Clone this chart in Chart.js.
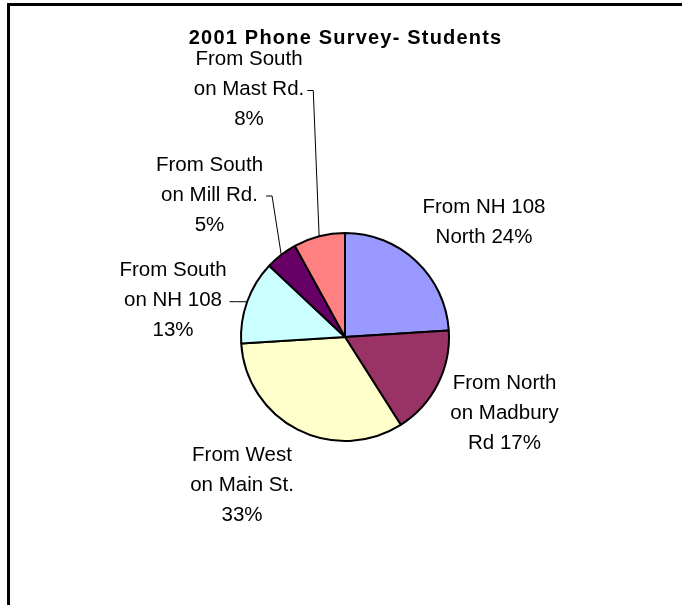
<!DOCTYPE html>
<html>
<head>
<meta charset="utf-8">
<script src="https://cdn.jsdelivr.net/npm/chart.js@4.4.1/dist/chart.umd.min.js"></script>
<style>
  html, body { margin: 0; padding: 0; background: #fff; }
  #wrap { position: relative; width: 682px; height: 605px; }
</style>
</head>
<body>
<div id="wrap"><canvas id="surveyChart" width="682" height="605"></canvas></div>
<script>
const chartTitle = "2001 Phone Survey- Students";

// category names, already broken into lines like the original labels
const routes = [
  ["From NH 108", "North"],
  ["From North", "on Madbury", "Rd"],
  ["From West", "on Main St."],
  ["From South", "on NH 108"],
  ["From South", "on Mill Rd."],
  ["From South", "on Mast Rd."]
];
const shares = [24, 17, 33, 13, 5, 8];
const sliceColors = ["#9999ff", "#993366", "#ffffcc", "#ccffff", "#660066", "#ff8080"];

// label block centre, relative to the pie centre
const labelOffsets = [[139, -115], [159.5, 76.3], [-103, 148.5], [-172, -36.3], [-135.5, -142], [-96, -247.5]];
const pctSameLine = [true, true, false, false, false, false];
const hasLeader = [false, false, false, true, true, true];

const framePlugin = {
  id: "frame",
  beforeDraw(chart) {
    const ctx = chart.ctx;
    const area = chart.chartArea;
    ctx.save();
    ctx.fillStyle = "#fff";
    ctx.fillRect(0, 0, chart.width, chart.height);
    ctx.fillStyle = "#000";
    ctx.fillRect(7, 3, chart.width - 7, 3);
    ctx.fillRect(7, 3, 3, chart.height - 3);

    ctx.font = "bold 20px 'Liberation Sans', Arial, sans-serif";
    ctx.letterSpacing = "1.2px";
    ctx.textAlign = "center";
    ctx.textBaseline = "alphabetic";
    ctx.fillText(chartTitle, (area.left + area.right) / 2 + 0.6, 43.5);
    ctx.restore();
  }
};

const labelPlugin = {
  id: "sliceLabels",
  afterDatasetsDraw(chart) {
    const ctx = chart.ctx;
    const meta = chart.getDatasetMeta(0);
    const total = shares.reduce((a, b) => a + b, 0);
    const lh = 30;

    ctx.save();
    ctx.font = "20.5px 'Liberation Sans', Arial, sans-serif";
    ctx.fillStyle = "#000";
    ctx.strokeStyle = "#000";
    ctx.lineWidth = 1;
    ctx.textAlign = "center";
    ctx.textBaseline = "middle";

    meta.data.forEach((arc, i) => {
      const pct = Math.round(shares[i] / total * 100) + "%";
      const lines = routes[i].slice();
      if (pctSameLine[i]) {
        lines[lines.length - 1] += " " + pct;
      } else {
        lines.push(pct);
      }
      const cx = arc.x + labelOffsets[i][0];
      const cy = arc.y + labelOffsets[i][1];
      const top = cy - (lines.length - 1) * lh / 2;
      lines.forEach((t, k) => ctx.fillText(t, cx, top + k * lh));

      if (hasLeader[i]) {
        const w = Math.max(...lines.map(t => ctx.measureText(t).width));
        const sx = cx + w / 2 + 3;
        const sy = top + lh + 1;
        const mid = (arc.startAngle + arc.endAngle) / 2;
        const ex = arc.x + Math.cos(mid) * arc.outerRadius;
        const ey = arc.y + Math.sin(mid) * arc.outerRadius;
        ctx.beginPath();
        ctx.moveTo(sx, sy);
        ctx.lineTo(sx + 6, sy);
        ctx.lineTo(ex, ey);
        ctx.stroke();
      }
    });
    ctx.restore();
  }
};

new Chart(document.getElementById("surveyChart").getContext("2d"), {
  type: "pie",
  data: {
    labels: routes.map(r => r.join(" ")),
    datasets: [{
      data: shares,
      backgroundColor: sliceColors,
      borderColor: "#000",
      borderWidth: 2
    }]
  },
  options: {
    responsive: false,
    animation: false,
    layout: {
      padding: { left: 240, right: 232, top: 232, bottom: 163 }
    },
    plugins: {
      legend: { display: false },
      tooltip: { enabled: false },
      title: { display: false }
    }
  },
  plugins: [framePlugin, labelPlugin]
});
</script>
</body>
</html>
